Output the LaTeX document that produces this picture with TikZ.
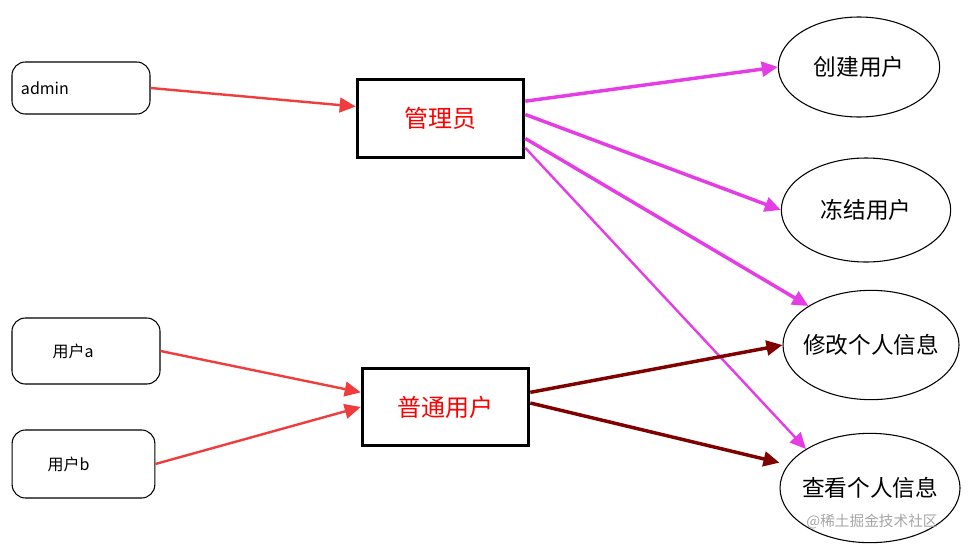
\documentclass[tikz,border=0pt]{standalone}
\usepackage{fontspec}
\setmainfont{Noto Sans CJK SC}
\usetikzlibrary{arrows.meta,shapes.geometric}
\definecolor{inred}{RGB}{240,60,60}
\definecolor{admmag}{RGB}{230,60,230}
\definecolor{usrdark}{RGB}{128,0,0}
\tikzset{
  userbox/.style={draw,thick,rounded corners=10pt,align=left,font=\fontsize{12}{14}\selectfont,inner sep=0pt},
  rolebox/.style={draw,line width=2.2pt,text=red,font=\fontsize{18}{20}\selectfont,inner sep=0pt},
  actell/.style={draw,thick,ellipse,font=\fontsize{17}{19}\selectfont,inner sep=-9pt},
  flow/.style={line width=2.6pt,-{Triangle[length=12pt,width=11pt]}},
}
\begin{document}
\begin{tikzpicture}[x=0.75pt,y=0.75pt,yscale=-1,xscale=1]
	\useasboundingbox (0,0) rectangle (969,550);
	\fill[white] (0,0) rectangle (969,550);

	% Text Node
	\node (admin) [userbox,minimum width=103.5pt,minimum height=39pt,text width=90pt] at (81,88) {admin};
	\node (usra) [userbox,minimum width=111pt,minimum height=49.5pt,text width=82pt] at (86,351) {\hspace*{16pt}用户a};
	\node (usrb) [userbox,minimum width=107pt,minimum height=51pt,text width=82pt] at (83.5,464) {\hspace*{14pt}用户b};
	% roles
	\node (mgr) [rolebox,minimum width=125pt,minimum height=58pt] at (440.5,118.5) {管理员};
	\node (common) [rolebox,minimum width=125pt,minimum height=58pt] at (445.5,407) {普通用户};
	% actions
	\node (create) [actell,minimum width=121pt,minimum height=75pt] at (859,67) {创建用户};
	\node (freeze) [actell,minimum width=127pt,minimum height=78pt] at (866,210) {冻结用户};
	\node (modify) [actell,minimum width=132pt,minimum height=82pt] at (871,345) {修改个人信息};
	\node (view) [actell,minimum width=135pt,minimum height=82pt] at (870,488) {查看个人信息};
	% watermark
	\node (mark) [text=gray!70,font=\fontsize{11}{12}\selectfont] at (872,522) {@稀土掘金技术社区};

	%Straight Lines
	\draw[flow,inred,line width=1.8pt] (admin.east) -- ([yshift=-9pt]mgr.west);
	\draw[flow,inred,line width=1.8pt] (usra.east) -- ([yshift=-11pt]common.west);
	\draw[flow,inred,line width=1.8pt] (usrb.east) -- (common.west);
	\draw[flow,admmag] ([yshift=-13pt]mgr.east) -- (create.west);
	\draw[flow,admmag] ([yshift=-3pt]mgr.east) -- (freeze.west);
	\draw[flow,admmag] ([yshift=15pt]mgr.east) -- (modify.north west);
	\draw[flow,admmag,line width=1.8pt] ([yshift=22pt]mgr.east) -- (view.north west);
	\draw[flow,usrdark] ([yshift=-11pt]common.east) -- (modify.west);
	\draw[flow,usrdark] ([yshift=-3pt]common.east) -- ([yshift=-19pt]view.west);
\end{tikzpicture}
\end{document}
